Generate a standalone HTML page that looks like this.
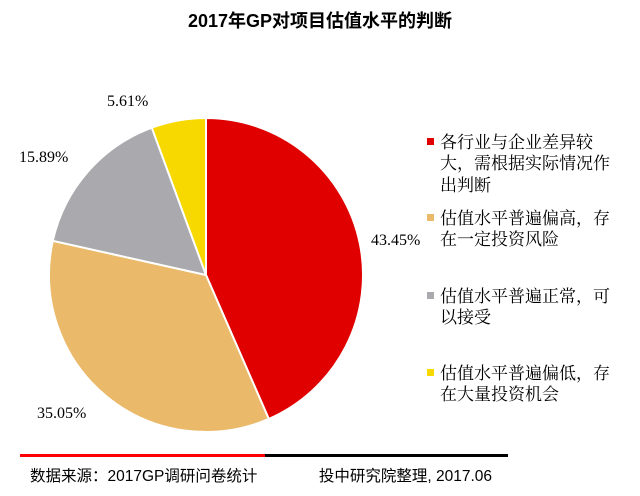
<!DOCTYPE html>
<html><head><meta charset="utf-8"><style>
html,body{margin:0;padding:0;background:#fff;width:640px;height:496px;overflow:hidden}
</style></head><body>
<svg width="640" height="496" xmlns="http://www.w3.org/2000/svg">
<text x="320" y="27" text-anchor="middle" font-family="Liberation Sans, Noto Sans CJK SC, sans-serif" font-size="18" font-weight="bold">2017年GP对项目估值水平的判断</text>
<g stroke="#fff" stroke-width="2" stroke-linejoin="round">
<path d="M206,275 L206,118 A157,157 0 0 1 268.8,418.9 Z" fill="#e00000"/>
<path d="M206,275 L268.8,418.9 A157,157 0 0 1 52.8,240.8 Z" fill="#ebb96a"/>
<path d="M206,275 L52.8,240.8 A157,157 0 0 1 151.8,127.7 Z" fill="#a9a9ae"/>
<path d="M206,275 L151.8,127.7 A157,157 0 0 1 206,118 Z" fill="#f7d900"/>
</g>
<g font-family="Liberation Serif, serif" font-size="16" fill="#000">
<text x="371" y="245">43.45%</text>
<text x="37" y="418">35.05%</text>
<text x="19" y="162">15.89%</text>
<text x="107" y="106">5.61%</text>
</g>
<g font-family="Liberation Sans, Noto Serif CJK SC, serif" font-size="17" fill="#000">
<rect x="427" y="138" width="7" height="7" fill="#e00000"/>
<text x="440" y="148">各行业与企业差异较</text>
<text x="440" y="169">大，需根据实际情况作</text>
<text x="440" y="191">出判断</text>
<rect x="427" y="214" width="7" height="7" fill="#ebb96a"/>
<text x="440" y="224">估值水平普遍偏高，存</text>
<text x="440" y="245">在一定投资风险</text>
<rect x="427" y="292" width="7" height="7" fill="#a9a9ae"/>
<text x="440" y="302">估值水平普遍正常，可</text>
<text x="440" y="323">以接受</text>
<rect x="427" y="369" width="7" height="7" fill="#f7d900"/>
<text x="440" y="379">估值水平普遍偏低，存</text>
<text x="440" y="400">在大量投资机会</text>
</g>
<rect x="20" y="454" width="245" height="3" fill="#ff0000"/>
<rect x="265" y="454" width="243" height="3" fill="#000"/>
<g font-family="Liberation Sans, Noto Sans CJK SC, sans-serif" font-size="15.5" fill="#000">
<text x="30" y="481">数据来源：2017GP调研问卷统计</text>
<text x="492" y="481" text-anchor="end">投中研究院整理, 2017.06</text>
</g>
</svg>
</body></html>
